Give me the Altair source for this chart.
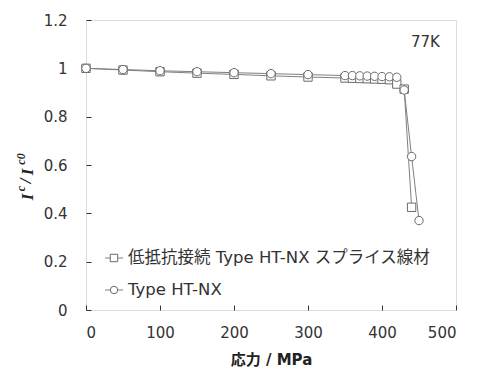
import altair as alt
import pandas as pd

# ---- data ----
series_names = ["低抵抗接続 Type HT-NX スプライス線材", "Type HT-NX"]

stress_sq = [0, 50, 100, 150, 200, 250, 300, 350, 360, 370, 380, 390, 400, 410, 420, 430, 440]
ic_sq = [1.0, 0.993, 0.986, 0.980, 0.975, 0.969, 0.964, 0.960, 0.959, 0.958, 0.957,
         0.956, 0.955, 0.953, 0.935, 0.914, 0.425]

stress_ci = [0, 50, 100, 150, 200, 250, 300, 350, 360, 370, 380, 390, 400, 410, 420, 430, 440, 450]
ic_ci = [1.0, 0.995, 0.990, 0.986, 0.982, 0.978, 0.974, 0.970, 0.970, 0.969, 0.968,
         0.967, 0.966, 0.965, 0.963, 0.910, 0.635, 0.370]

x_ticks = [0, 100, 200, 300, 400, 500]
y_ticks = [0, 0.2, 0.4, 0.6, 0.8, 1.0, 1.2]
x_title = "応力 / MPa"
temp_label = "77K"

df = pd.concat([
    pd.DataFrame({"stress": stress_sq, "ic": ic_sq, "series": series_names[0], "order": 0}),
    pd.DataFrame({"stress": stress_ci, "ic": ic_ci, "series": series_names[1], "order": 1}),
], ignore_index=True)

FONT = "DejaVu Sans, Noto Sans CJK JP"
LINE = "#808080"
MARK = "#6a6a6a"
TXT = "#333333"

x_enc = alt.X("stress:Q",
              scale=alt.Scale(domain=[0, 500], nice=False),
              axis=alt.Axis(values=x_ticks, tickSize=5, offset=-5, domain=False, grid=False,
                            tickColor="#333333", labelFont=FONT, labelFontSize=15,
                            labelColor=TXT, labelPadding=15, title=x_title,
                            titleFont=FONT, titleFontSize=15, titleFontWeight="bold",
                            titleColor="#222222", titlePadding=12))
y_enc = alt.Y("ic:Q",
              scale=alt.Scale(domain=[0, 1.2], nice=False),
              axis=alt.Axis(values=y_ticks, format="~g", tickSize=5, offset=-5, domain=False,
                            grid=False, tickColor="#333333", labelFont=FONT, labelFontSize=15,
                            labelColor=TXT, labelPadding=19, title=""))

shape_scale = alt.Scale(domain=series_names, range=["square", "circle"])

lines = alt.Chart(df).mark_line(color=LINE, strokeWidth=1).encode(
    x=x_enc, y=y_enc, detail="series:N", order="stress:Q")

points = alt.Chart(df).mark_point(filled=True, fill="white", stroke=MARK, strokeWidth=1,
                                  opacity=1, size=70).encode(
    x="stress:Q", y="ic:Q",
    shape=alt.Shape("series:N", scale=shape_scale, legend=None),
    order=alt.Order("order:Q"))

layers = [lines, points]

# temperature annotation
layers.append(alt.Chart(pd.DataFrame({"t": [temp_label]})).mark_text(
    font=FONT, fontSize=15, color=TXT, align="left", baseline="middle").encode(
    text="t:N", x=alt.value(325), y=alt.value(22)))

# legend (drawn inside plot, lower-left)
leg_shapes = ["square", "circle"]
leg_y = [238, 270]
for name, shp, ly in zip(series_names, leg_shapes, leg_y):
    ldf = pd.DataFrame({"label": [name]})
    layers.append(alt.Chart(ldf).mark_rule(color=LINE, strokeWidth=1).encode(
        x=alt.value(19), x2=alt.value(37), y=alt.value(ly)))
    layers.append(alt.Chart(ldf).mark_point(shape=shp, filled=True, fill="white", stroke=MARK,
                                            strokeWidth=1, opacity=1, size=55).encode(
        x=alt.value(28), y=alt.value(ly)))
    layers.append(alt.Chart(ldf).mark_text(font=FONT, fontSize=16.5, color=TXT, align="left",
                                           baseline="middle").encode(
        text="label:N", x=alt.value(42), y=alt.value(ly)))

# y-axis title I_c / I_c0 (rotated, built from pieces)
title_pieces = ["I", "c", "/", "I", "c0"]
piece_sizes = [17, 12, 17, 17, 12]
piece_x = [-58.5, -65, -60, -58.5, -65]
piece_y = [177, 168.5, 161, 152, 139]
for txt, fs, px, py in zip(title_pieces, piece_sizes, piece_x, piece_y):
    layers.append(alt.Chart(pd.DataFrame({"t": [txt]})).mark_text(
        font="Liberation Serif", fontSize=fs, fontWeight="bold", fontStyle="italic",
        color="#222222", angle=270, align="center", baseline="middle").encode(
        text="t:N", x=alt.value(px), y=alt.value(py)))

chart = alt.layer(*layers).properties(
    width=370, height=290,
    autosize=alt.AutoSizeParams(type="none"),
    padding={"left": 86, "top": 20, "right": 26, "bottom": 62},
).configure_view(stroke="#262626", strokeWidth=1).configure(background="white")

chart.save("out.html", embed_options={"renderer": "svg", "actions": False})
